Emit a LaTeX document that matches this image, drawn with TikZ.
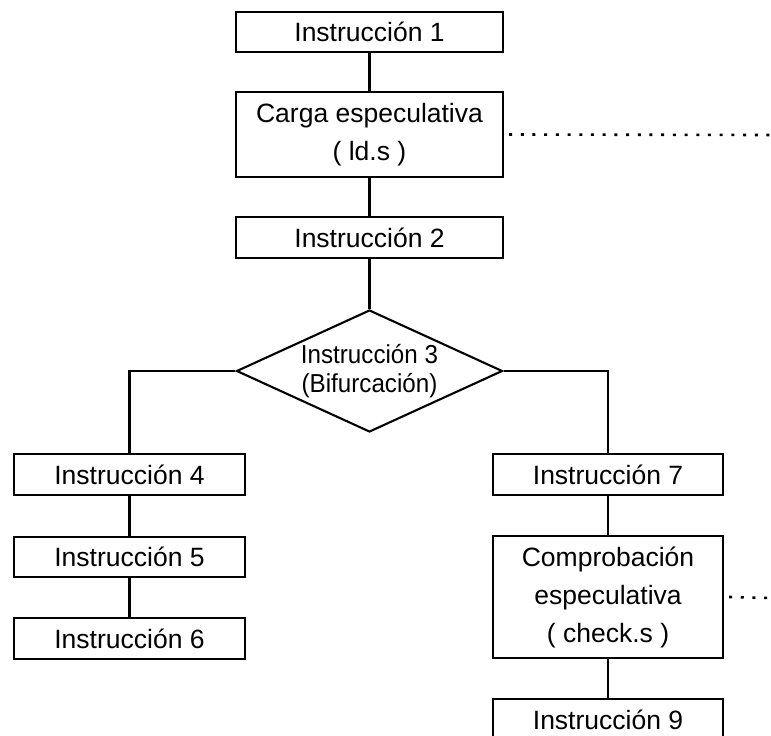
\documentclass[tikz,border=0pt]{standalone}
\usepackage{fontspec}
\setmainfont{Liberation Sans}
\newfontfamily\condfont[FakeStretch=0.93]{Liberation Sans}
\usetikzlibrary{shapes.geometric}
\begin{document}
\begin{tikzpicture}[x=1pt,y=-1pt,
  line/.style={line width=2.1pt},
  box/.style={draw, line width=2.1pt, inner sep=0pt, align=center,
    font=\fontsize{26.5}{38}\selectfont},
  dia/.style={draw, line width=2.1pt, shape=diamond, inner sep=0pt, shape aspect=2.18,
    minimum width=266pt, minimum height=122pt, align=center,
    font=\condfont\fontsize{26}{29}\selectfont},
  dots/.style={line width=2.6pt, dash pattern=on 3pt off 8.7pt}]
\useasboundingbox (0,0) rectangle (771,736);
\clip (0,0) rectangle (771,736);
\node[box, minimum width=267pt, minimum height=40pt] (i1) at (369.5,32) {Instrucción 1};
\node[box, minimum width=267pt, minimum height=85pt] (ld) at (369.5,134.5) {Carga especulativa\\( ld.s )};
\node[box, minimum width=267pt, minimum height=41pt] (i2) at (369.5,237.5) {Instrucción 2};
\node[dia] (i3) at (369.5,371) {Instrucción 3\\(Bifurcación)};
\node[box, minimum width=231pt, minimum height=41pt] (i4) at (129.5,474.5) {Instrucción 4};
\node[box, minimum width=231pt, minimum height=40pt] (i5) at (129.5,557) {Instrucción 5};
\node[box, minimum width=231pt, minimum height=41pt] (i6) at (129.5,638.5) {Instrucción 6};
\node[box, minimum width=230pt, minimum height=41pt] (i7) at (608,474.5) {Instrucción 7};
\node[box, minimum width=230pt, minimum height=122pt] (ck) at (608,597) {Comprobación\\especulativa\\( check.s )};
\node[box, minimum width=230pt, minimum height=42pt] (i9) at (608,720) {Instrucción 9};
\coordinate (e1) at (771,135);
\coordinate (e2) at (771,598);
\draw[line] (i1) -- (ld);
\draw[line] (ld) -- (i2);
\draw[line] (i2) -- (i3);
\draw[line] (i3.west) -| (i4.north);
\draw[line] (i3.east) -| (i7.north);
\draw[line] (i4) -- (i5);
\draw[line] (i5) -- (i6);
\draw[line] (i7) -- (ck);
\draw[line] (ck) -- (i9);
\draw[dots] ([xshift=5pt]ld.east) -- (e1);
\draw[dots] ([xshift=5pt]ck.east) -- (e2);
\end{tikzpicture}
\end{document}
